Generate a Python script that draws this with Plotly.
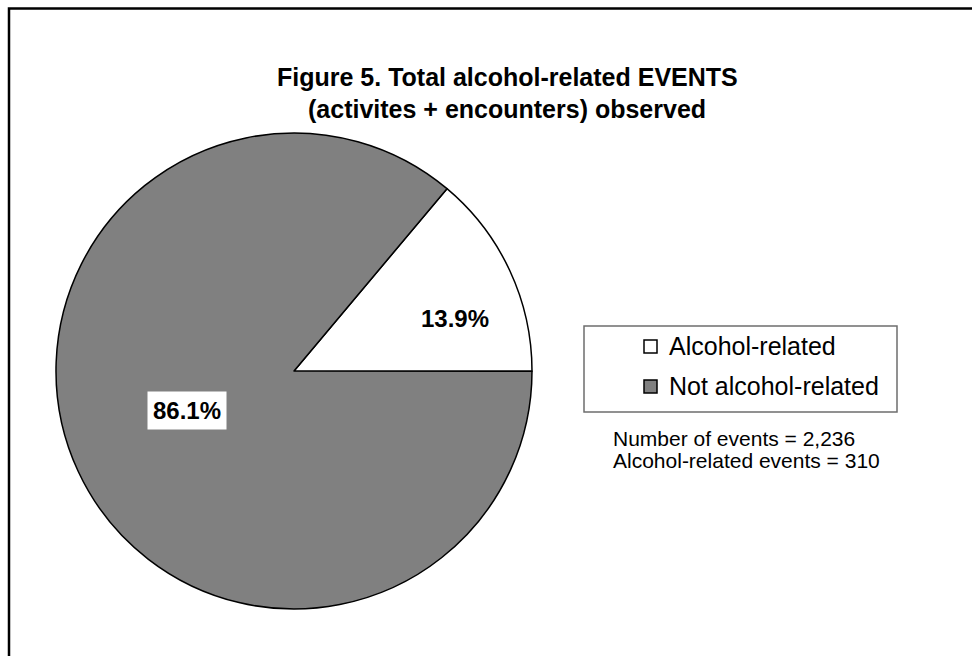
import math
import plotly.graph_objects as go

# ---- data ----
categories = ["Alcohol-related", "Not alcohol-related"]
percentages = [13.9, 86.1]
label_texts = ["13.9%", "86.1%"]
note_lines = ["Number of events = 2,236", "Alcohol-related events = 310"]
title_lines = ["Figure 5. Total alcohol-related EVENTS", "(activites + encounters) observed"]

# ---- styling ----
W, H = 972, 656
colors = ["#FFFFFF", "#808080"]
FONT = "Liberation Sans, Arial, sans-serif"

# pie geometry in pixels
cx, cy, R = 294, 371, 238
dom_x = [(cx - R) / W, (cx + R) / W]
dom_y = [1 - (cy + R) / H, 1 - (cy - R) / H]

fig = go.Figure()
fig.add_trace(go.Pie(
    labels=categories,
    values=percentages,
    sort=False,
    direction="counterclockwise",
    rotation=40,
    marker=dict(colors=colors, line=dict(color="black", width=1.5)),
    textinfo="none",
    hoverinfo="label+percent",
    domain=dict(x=dom_x, y=dom_y),
    showlegend=False,
))

# label placement (radius fraction, angle offset in degrees) per slice
label_radius = [0.71, 0.48]
label_angle_offset = [-7, -5]
label_bg = ["rgba(0,0,0,0)", "#FFFFFF"]

annotations = []
shapes = []
total = sum(percentages)
start = 0.0
for i, v in enumerate(percentages):
    span = v / total * 360.0
    mid = start + span / 2 + label_angle_offset[i]
    start += span
    px = cx + label_radius[i] * R * math.cos(math.radians(mid))
    py = cy - label_radius[i] * R * math.sin(math.radians(mid))
    annotations.append(dict(
        x=px / W, y=1 - py / H, xref="paper", yref="paper",
        text="<b>" + label_texts[i] + "</b>", showarrow=False,
        font=dict(family=FONT, size=24, color="black"),
        bgcolor=label_bg[i], borderpad=5,
        xanchor="center", yanchor="middle",
    ))

# legend (box, swatches, labels)
lg_x0, lg_x1, lg_y0, lg_y1 = 584, 897, 326, 412
shapes.append(dict(
    type="rect", xref="paper", yref="paper",
    x0=lg_x0 / W, x1=lg_x1 / W, y0=1 - lg_y1 / H, y1=1 - lg_y0 / H,
    line=dict(color="#6e6e6e", width=1.5), fillcolor="white", layer="below",
))
row_y = [346, 386]
for cat, col, yy in zip(categories, colors, row_y):
    shapes.append(dict(
        type="rect", xref="paper", yref="paper",
        x0=644 / W, x1=657 / W, y0=1 - (yy + 7) / H, y1=1 - (yy - 6) / H,
        line=dict(color="black", width=1.5), fillcolor=col,
    ))
    annotations.append(dict(
        x=667 / W, y=1 - yy / H, xref="paper", yref="paper",
        text=cat, showarrow=False,
        font=dict(family=FONT, size=25, color="black"),
        xanchor="left", yanchor="middle",
    ))

# note lines
note_y = [438, 460]
for line, yy in zip(note_lines, note_y):
    annotations.append(dict(
        x=611 / W, y=1 - yy / H, xref="paper", yref="paper",
        text=line, showarrow=False,
        font=dict(family=FONT, size=21, color="black"),
        xanchor="left", yanchor="middle",
    ))

# title lines
title_y = [77, 109]
for line, yy in zip(title_lines, title_y):
    annotations.append(dict(
        x=507 / W, y=1 - yy / H, xref="paper", yref="paper",
        text="<b>" + line + "</b>", showarrow=False,
        font=dict(family=FONT, size=25, color="black"),
        xanchor="center", yanchor="middle",
    ))

# outer frame
shapes.append(dict(
    type="rect", xref="paper", yref="paper",
    x0=9 / W, x1=1.02, y0=-0.02, y1=1 - 8.5 / H,
    line=dict(color="black", width=2.5), fillcolor="rgba(0,0,0,0)",
))

fig.update_layout(
    width=W, height=H,
    margin=dict(l=0, r=0, t=0, b=0),
    paper_bgcolor="white",
    plot_bgcolor="white",
    annotations=annotations,
    shapes=shapes,
    showlegend=False,
)

fig.write_html("out.html")
